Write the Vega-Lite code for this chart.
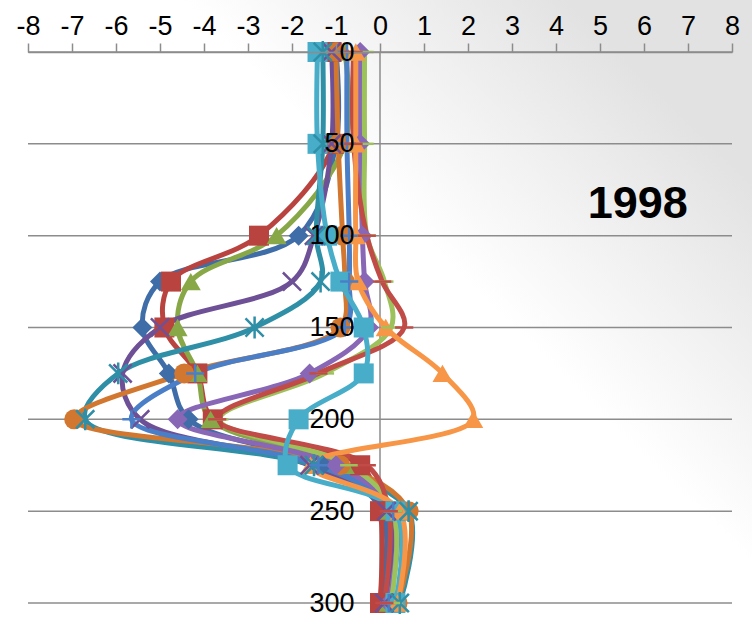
{
  "$schema": "https://vega.github.io/schema/vega-lite/v6.json",
  "autosize": {"type": "none"},
  "width": 704,
  "height": 551,
  "padding": {"left": 28, "top": 52, "right": 20, "bottom": 14},
  "background": "white",
  "config": {
    "view": {"stroke": null},
    "font": "Liberation Sans",
    "axis": {"labelFont": "Liberation Sans", "labelFontSize": 27, "labelColor": "#000000", "title": null}
  },
  "datasets": {
    "profiles": [
      {"s":"s1","m":"diamond","d":0,"v":-1.0},{"s":"s1","m":"diamond","d":50,"v":-1.0},{"s":"s1","m":"diamond","d":100,"v":-1.85},{"s":"s1","m":"diamond","d":125,"v":-5.0},{"s":"s1","m":"diamond","d":150,"v":-5.4},{"s":"s1","m":"diamond","d":175,"v":-4.8},{"s":"s1","m":"diamond","d":200,"v":-4.35},{"s":"s1","m":"diamond","d":225,"v":-1.3},{"s":"s1","m":"diamond","d":250,"v":0.05},{"s":"s1","m":"diamond","d":300,"v":0.0},
      {"s":"s2","m":"square","d":0,"v":-1.1},{"s":"s2","m":"square","d":50,"v":-1.05},{"s":"s2","m":"square","d":100,"v":-2.75},{"s":"s2","m":"square","d":125,"v":-4.75},{"s":"s2","m":"square","d":150,"v":-4.9},{"s":"s2","m":"square","d":175,"v":-4.15},{"s":"s2","m":"square","d":200,"v":-3.8},{"s":"s2","m":"square","d":225,"v":-0.45},{"s":"s2","m":"square","d":250,"v":0.0},{"s":"s2","m":"square","d":300,"v":0.0},
      {"s":"s3","m":"triangle","d":0,"v":-0.8},{"s":"s3","m":"triangle","d":50,"v":-0.8},{"s":"s3","m":"triangle","d":100,"v":-2.35},{"s":"s3","m":"triangle","d":125,"v":-4.3},{"s":"s3","m":"triangle","d":150,"v":-4.6},{"s":"s3","m":"triangle","d":175,"v":-4.15},{"s":"s3","m":"triangle","d":200,"v":-3.85},{"s":"s3","m":"triangle","d":225,"v":-0.8},{"s":"s3","m":"triangle","d":250,"v":0.2},{"s":"s3","m":"triangle","d":300,"v":0.2},
      {"s":"s4","m":"x","d":0,"v":-1.1},{"s":"s4","m":"x","d":50,"v":-1.1},{"s":"s4","m":"x","d":100,"v":-1.5},{"s":"s4","m":"x","d":125,"v":-2.0},{"s":"s4","m":"x","d":150,"v":-5.0},{"s":"s4","m":"x","d":175,"v":-5.85},{"s":"s4","m":"x","d":200,"v":-5.45},{"s":"s4","m":"x","d":225,"v":-1.6},{"s":"s4","m":"x","d":250,"v":0.15},{"s":"s4","m":"x","d":300,"v":0.1},
      {"s":"s5","m":"asterisk","d":0,"v":-1.3},{"s":"s5","m":"asterisk","d":50,"v":-1.3},{"s":"s5","m":"asterisk","d":100,"v":-1.45},{"s":"s5","m":"asterisk","d":125,"v":-1.35},{"s":"s5","m":"asterisk","d":150,"v":-2.85},{"s":"s5","m":"asterisk","d":175,"v":-5.95},{"s":"s5","m":"asterisk","d":200,"v":-6.7},{"s":"s5","m":"asterisk","d":225,"v":-1.5},{"s":"s5","m":"asterisk","d":250,"v":0.65},{"s":"s5","m":"asterisk","d":300,"v":0.45},
      {"s":"s6","m":"circle","d":0,"v":-1.0},{"s":"s6","m":"circle","d":50,"v":-0.95},{"s":"s6","m":"circle","d":100,"v":-0.85},{"s":"s6","m":"circle","d":125,"v":-0.8},{"s":"s6","m":"circle","d":150,"v":-0.9},{"s":"s6","m":"circle","d":175,"v":-4.45},{"s":"s6","m":"circle","d":200,"v":-6.95},{"s":"s6","m":"circle","d":225,"v":-0.9},{"s":"s6","m":"circle","d":250,"v":0.65},{"s":"s6","m":"circle","d":300,"v":0.4},
      {"s":"s7","m":"plus","d":0,"v":-0.75},{"s":"s7","m":"plus","d":50,"v":-0.75},{"s":"s7","m":"plus","d":100,"v":-0.7},{"s":"s7","m":"plus","d":125,"v":-0.7},{"s":"s7","m":"plus","d":150,"v":-0.8},{"s":"s7","m":"plus","d":175,"v":-4.2},{"s":"s7","m":"plus","d":200,"v":-5.65},{"s":"s7","m":"plus","d":225,"v":-1.4},{"s":"s7","m":"plus","d":250,"v":0.3},{"s":"s7","m":"plus","d":300,"v":0.2},
      {"s":"s8","m":"diamond","d":0,"v":-0.45},{"s":"s8","m":"diamond","d":50,"v":-0.45},{"s":"s8","m":"diamond","d":100,"v":-0.4},{"s":"s8","m":"diamond","d":125,"v":-0.35},{"s":"s8","m":"diamond","d":150,"v":-0.25},{"s":"s8","m":"diamond","d":175,"v":-1.6},{"s":"s8","m":"diamond","d":200,"v":-4.6},{"s":"s8","m":"diamond","d":225,"v":-1.0},{"s":"s8","m":"diamond","d":250,"v":0.3},{"s":"s8","m":"diamond","d":300,"v":0.2},
      {"s":"s9","m":"dash","d":0,"v":-0.35},{"s":"s9","m":"dash","d":50,"v":-0.35},{"s":"s9","m":"dash","d":100,"v":-0.3},{"s":"s9","m":"dash","d":125,"v":0.1},{"s":"s9","m":"dash","d":150,"v":0.25},{"s":"s9","m":"dash","d":175,"v":-1.25},{"s":"s9","m":"dash","d":200,"v":-3.65},{"s":"s9","m":"dash","d":225,"v":-0.7},{"s":"s9","m":"dash","d":250,"v":0.3},{"s":"s9","m":"dash","d":300,"v":0.25},
      {"s":"s12","m":"dash","d":0,"v":-0.6},{"s":"s12","m":"dash","d":50,"v":-0.6},{"s":"s12","m":"dash","d":100,"v":-0.3},{"s":"s12","m":"dash","d":125,"v":0.05},{"s":"s12","m":"dash","d":150,"v":0.55},{"s":"s12","m":"dash","d":175,"v":-1.4},{"s":"s12","m":"dash","d":200,"v":-3.7},{"s":"s12","m":"dash","d":225,"v":-0.3},{"s":"s12","m":"dash","d":250,"v":0.2},{"s":"s12","m":"dash","d":300,"v":0.1},
      {"s":"s10","m":"square","d":0,"v":-1.42},{"s":"s10","m":"square","d":50,"v":-1.42},{"s":"s10","m":"square","d":100,"v":-1.2},{"s":"s10","m":"square","d":125,"v":-0.9},{"s":"s10","m":"square","d":150,"v":-0.37},{"s":"s10","m":"square","d":175,"v":-0.37},{"s":"s10","m":"square","d":200,"v":-1.85},{"s":"s10","m":"square","d":225,"v":-2.1},{"s":"s10","m":"square","d":250,"v":0.35},{"s":"s10","m":"square","d":300,"v":0.35},
      {"s":"s11","m":"triangle","d":0,"v":-0.55},{"s":"s11","m":"triangle","d":50,"v":-0.55},{"s":"s11","m":"triangle","d":100,"v":-0.55},{"s":"s11","m":"triangle","d":125,"v":-0.5},{"s":"s11","m":"triangle","d":150,"v":0.13},{"s":"s11","m":"triangle","d":175,"v":1.42},{"s":"s11","m":"triangle","d":200,"v":2.12},{"s":"s11","m":"triangle","d":225,"v":-1.58},{"s":"s11","m":"triangle","d":250,"v":0.45},{"s":"s11","m":"triangle","d":300,"v":0.4}
    ],
    "grid": [{"g": 0}, {"g": 50}, {"g": 100}, {"g": 150}, {"g": 200}, {"g": 250}, {"g": 300}]
  },
  "resolve": {"axis": {"y": "independent"}},
  "layer": [
    {
      "data": {"values": [{"x1": -8.7, "x2": 8.5, "y1": -30, "y2": 310}]},
      "mark": {"type": "rect", "color": {"gradient": "linear", "x1": 0.7, "y1": 0.55, "x2": 1, "y2": 0.3, "stops": [{"offset": 0, "color": "#FFFFFF"}, {"offset": 1, "color": "#E2E2E2"}]}},
      "encoding": {
        "x": {"field": "x1", "type": "quantitative", "scale": {"domain": [-8, 8], "nice": false, "zero": false},
          "axis": {
            "orient": "top", "values": [-8,-7,-6,-5,-4,-3,-2,-1,0,1,2,3,4,5,6,7,8],
            "labelExpr": "'' + datum.value", "zindex": 1, "labelFlush": false, "labelOverlap": false,
            "grid": false, "domainColor": "#8C8C8C", "domainWidth": 1.5,
            "tickColor": "#8C8C8C", "tickWidth": 1.5, "tickSize": 9, "labelPadding": 3
          }},
        "x2": {"field": "x2"},
        "y": {"field": "y1", "type": "quantitative", "scale": {"domain": [0, 300], "reverse": true, "nice": false}, "axis": null},
        "y2": {"field": "y2"}
      }
    },
    {
      "data": {"name": "grid"},
      "mark": {"type": "rule", "color": "#8C8C8C", "strokeWidth": 1.5},
      "encoding": {"y": {"field": "g", "type": "quantitative", "axis": null}}
    },
    {
      "data": {"values": [{"z": 0}]},
      "mark": {"type": "rule", "color": "#8C8C8C", "strokeWidth": 1.5},
      "encoding": {"x": {"field": "z", "type": "quantitative"}}
    },
    {
      "data": {"name": "profiles"},
      "mark": {"type": "line", "interpolate": "catmull-rom", "strokeWidth": 5},
      "encoding": {
        "x": {"field": "v", "type": "quantitative"},
        "y": {"field": "d", "type": "quantitative", "axis": null},
        "color": {
          "field": "s", "type": "nominal", "legend": null,
          "scale": {
            "domain": ["s1","s2","s3","s4","s5","s6","s7","s8","s9","s12","s10","s11"],
            "range": ["#3F6DA8","#B9433F","#88A848","#6E5097","#2E8FA6","#D2772F","#4A7FC8","#8767B6","#9DC25C","#C04B47","#48ADC8","#F79646"]
          }
        },
        "order": {"field": "d", "type": "quantitative"}
      }
    },
    {
      "data": {"name": "profiles"},
      "transform": [{"filter": "indexof(['diamond','square','triangle','circle'], datum.m) >= 0"}],
      "mark": {"type": "point", "filled": true, "opacity": 1, "size": 400},
      "encoding": {
        "x": {"field": "v", "type": "quantitative"},
        "y": {
          "field": "d", "type": "quantitative",
          "axis": {
            "orient": "left", "offset": -352, "values": [0,50,100,150,200,250,300],
            "grid": false, "domain": false, "ticks": false, "zindex": 1,
            "labelPadding": 26, "labelBaseline": "middle", "labelFlush": false
          }
        },
        "color": {"field": "s", "type": "nominal", "legend": null},
        "shape": {"field": "m", "type": "nominal", "legend": null,
          "scale": {"domain": ["diamond","square","triangle","circle","x","asterisk","plus","dash"],
            "range": ["diamond","square","triangle-up","circle","M-1,-1L1,1M-1,1L1,-1","M-1,-1L1,1M-1,1L1,-1M0,-1.2L0,1.2","M-1,0L1,0M0,-1L0,1","M-1,0L1,0"]}}
      }
    },
    {
      "data": {"name": "profiles"},
      "transform": [{"filter": "indexof(['x','asterisk','plus','dash'], datum.m) >= 0"}],
      "mark": {"type": "point", "filled": false, "opacity": 1, "size": 330, "strokeWidth": 2.5},
      "encoding": {
        "x": {"field": "v", "type": "quantitative"},
        "y": {"field": "d", "type": "quantitative", "axis": null},
        "color": {"field": "s", "type": "nominal", "legend": null},
        "shape": {"field": "m", "type": "nominal", "legend": null}
      }
    },
    {
      "data": {"values": [{"label": "1998"}]},
      "mark": {"type": "text", "font": "Liberation Sans", "fontWeight": "bold", "fontSize": 45, "baseline": "middle", "align": "center", "color": "#000000"},
      "encoding": {"x": {"datum": 5.86}, "y": {"datum": 83, "axis": null}, "text": {"field": "label"}}
    }
  ]
}
